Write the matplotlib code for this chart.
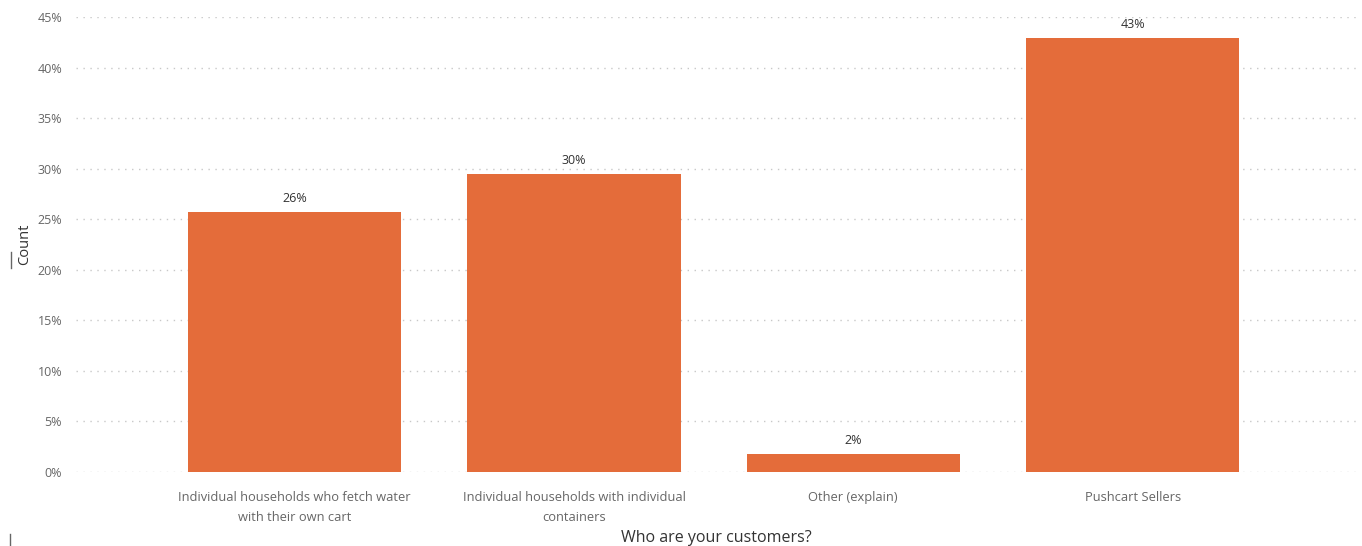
import numpy as np
import matplotlib.pyplot as plt
from matplotlib.ticker import PercentFormatter

# share of respondents per customer type
categories = [
    "Individual households who fetch water\nwith their own cart",
    "Individual households with individual\ncontainers",
    "Other (explain)",
    "Pushcart Sellers",
]
shares = [0.257, 0.295, 0.018, 0.429]
yticks = [0, 0.05, 0.10, 0.15, 0.20, 0.25, 0.30, 0.35, 0.40, 0.45]

plt.rcParams['font.family'] = ['Open Sans', 'DejaVu Sans']

fig = plt.figure(figsize=(13.62, 5.46), dpi=100)
ax = fig.add_axes([76 / 1362, 1 - 472 / 546, (1356 - 76) / 1362, (472 - 17) / 546])

x = np.arange(len(categories))
bars = ax.bar(x, shares, width=0.764, color='#E46C3A', zorder=3)

for b, v in zip(bars, shares):
    ax.annotate(f"{v:.0%}", (b.get_x() + b.get_width() / 2, v),
                xytext=(0, 5), textcoords='offset points',
                ha='center', va='bottom', fontsize=9, color='#333333')

ax.set_xlim(-0.783, 3.8)
ax.set_ylim(0, 0.45)
ax.set_yticks(yticks)
ax.yaxis.set_major_formatter(PercentFormatter(1.0, decimals=0))
ax.set_xticks(x)
ax.set_xticklabels(categories, fontsize=9.3, color='#666666', linespacing=1.65)
ax.tick_params(axis='y', labelsize=9, labelcolor='#666666', length=0, pad=10)
ax.tick_params(axis='x', length=0, pad=14)

ax.grid(axis='y', color='#C8C8C8', linestyle=(0, (1, 4)), linewidth=1, zorder=0)
for s in ax.spines.values():
    s.set_visible(False)

ax.set_xlabel("Who are your customers?", fontsize=11.5, color='#333333', labelpad=4)
ax.set_ylabel("Count", fontsize=10.5, color='#333333')
ax.yaxis.set_label_coords(-0.034, 0.5)

# small markers at the left edge
fig.add_artist(plt.Line2D([11 / 1362, 11 / 1362], [1 - 268 / 546, 1 - 252 / 546],
                          color='#666666', linewidth=1))
fig.add_artist(plt.Line2D([10 / 1362, 10 / 1362], [1 - 546 / 546, 1 - 534 / 546],
                          color='#666666', linewidth=1))

fig.savefig('out.png', dpi=100)
